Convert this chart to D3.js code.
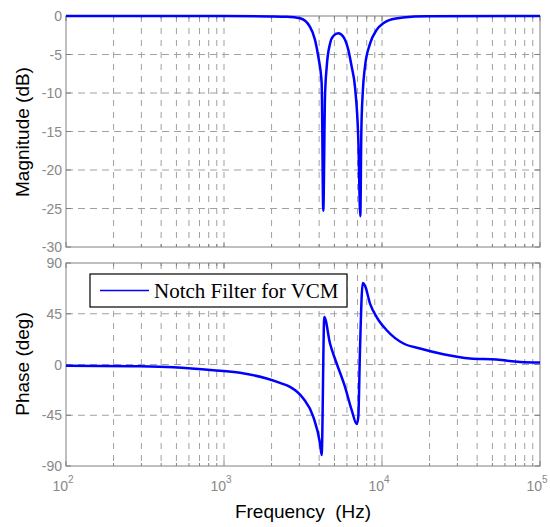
<!DOCTYPE html>
<html>
<head>
<meta charset="utf-8">
<script src="https://cdn.jsdelivr.net/npm/d3@7"></script>
<style>
  body { margin: 0; background: #fff; }
  svg text { font-family: "Liberation Sans", Arial, sans-serif; }
</style>
</head>
<body>
<div id="chart"></div>
<script>
// Magnitude response (Hz, dB)
var magFreq = [100, 1000, 1954, 2494, 3027, 3502, 3767, 3953, 4150, 4250, 4357, 4467, 4688, 4919, 5290, 5690, 6120, 6430, 6745, 7080, 7290, 7400, 7550, 7800, 8400, 9250, 10190, 11220, 13580, 19180, 100000];
var magDb   = [0, 0, -0.05, -0.1, -0.3, -1.4, -3.1, -5.3, -8.7, -25.3, -10.5, -6.6, -3.6, -2.6, -2.25, -2.7, -4.4, -6.6, -9.2, -16, -26.0, -15, -10, -6.6, -3.6, -1.8, -0.95, -0.5, -0.2, -0.03, 0];

// Phase response (Hz, deg)
var phaseFreq = [100, 265, 478, 855, 1263, 1863, 2262, 2615, 3176, 3675, 4053, 4150, 4313, 4688, 5166, 5832, 6430, 6918, 7080, 7255, 7550, 7800, 8400, 9250, 10710, 13680, 17400, 24430, 36060, 53210, 74680, 100000];
var phaseDeg  = [-1, -1.5, -2.4, -5, -7.4, -12.4, -16.3, -19.8, -30.1, -46.4, -70, -80.3, 42.1, 18.6, 0.9, -19.8, -40.5, -52.8, -46.4, 12.7, 72.3, 70, 54, 42.1, 30.4, 18.6, 14.2, 9.1, 5.3, 4.4, 2.3, 1.8];

var magTicks = [0, -5, -10, -15, -20, -25, -30];
var phaseTicks = [90, 45, 0, -45, -90];
var decadeExps = [2, 3, 4, 5];
var legendLabel = "Notch Filter for VCM";

var svgWidth = 550, svgHeight = 527;
var left = 66, right = 540;

var svg = d3.select("#chart").append("svg")
  .attr("width", svgWidth)
  .attr("height", svgHeight);

var x = d3.scaleLog().domain([100, 100000]).range([left, right]);
var yMag = d3.scaleLinear().domain([-30, 0]).range([247, 16]);
var yPh = d3.scaleLinear().domain([-90, 90]).range([466, 263]);

// all grid frequencies: 1..9 x each decade
var gridFreqs = [];
[100, 1000, 10000].forEach(function(d) {
  for (var k = 1; k < 10; k++) gridFreqs.push(d * k);
});
gridFreqs.push(100000);

function drawPanel(y, ticks, label, labelY) {
  var g = svg.append("g");
  var top = y.range()[1], bottom = y.range()[0];

  // vertical grid
  g.selectAll(".vg").data(gridFreqs.filter(f => f > 100 && f < 100000)).enter()
    .append("line")
    .attr("x1", d => x(d)).attr("x2", d => x(d))
    .attr("y1", top).attr("y2", bottom)
    .attr("stroke", "#a0a0a0")
    .attr("stroke-dasharray", "6,6");

  // horizontal grid
  g.selectAll(".hg").data(ticks.filter(t => y(t) > top + 1 && y(t) < bottom - 1)).enter()
    .append("line")
    .attr("x1", left).attr("x2", right)
    .attr("y1", d => y(d)).attr("y2", d => y(d))
    .attr("stroke", "#a0a0a0")
    .attr("stroke-dasharray", "7,5");

  // inward ticks on x
  gridFreqs.forEach(function(f) {
    var major = decadeExps.some(e => Math.abs(f - Math.pow(10, e)) < 1e-6);
    var len = major ? 5 : 3;
    g.append("line").attr("x1", x(f)).attr("x2", x(f))
      .attr("y1", bottom).attr("y2", bottom - len).attr("stroke", "#808080");
    g.append("line").attr("x1", x(f)).attr("x2", x(f))
      .attr("y1", top).attr("y2", top + len).attr("stroke", "#808080");
  });
  // inward ticks on y
  ticks.forEach(function(t) {
    g.append("line").attr("x1", left).attr("x2", left + 5)
      .attr("y1", y(t)).attr("y2", y(t)).attr("stroke", "#808080");
    g.append("line").attr("x1", right).attr("x2", right - 5)
      .attr("y1", y(t)).attr("y2", y(t)).attr("stroke", "#808080");
  });

  // box
  g.append("rect")
    .attr("x", left).attr("y", top)
    .attr("width", right - left).attr("height", bottom - top)
    .attr("fill", "none").attr("stroke", "#808080");

  // y tick labels
  g.selectAll(".yl").data(ticks).enter()
    .append("text")
    .attr("x", left - 4)
    .attr("y", d => y(d))
    .attr("dy", "0.36em")
    .attr("text-anchor", "end")
    .attr("font-size", "14px")
    .attr("fill", "#888")
    .text(d => d);

  // y axis title
  svg.append("text")
    .attr("transform", "translate(29," + labelY + ") rotate(-90)")
    .attr("text-anchor", "middle")
    .attr("font-size", "19px")
    .attr("fill", "#000")
    .text(label);

  return g;
}

var gMag = drawPanel(yMag, magTicks, "Magnitude (dB)", 132);
var gPh = drawPanel(yPh, phaseTicks, "Phase (deg)", 364);

var magData = magFreq.map((f, i) => [f, magDb[i]]);
var phData = phaseFreq.map((f, i) => [f, phaseDeg[i]]);

gMag.append("path")
  .datum(magData)
  .attr("fill", "none")
  .attr("stroke", "#0000ff")
  .attr("stroke-width", 2.5)
  .attr("d", d3.line().x(d => x(d[0])).y(d => yMag(d[1])).curve(d3.curveMonotoneX));

gPh.append("path")
  .datum(phData)
  .attr("fill", "none")
  .attr("stroke", "#0000ff")
  .attr("stroke-width", 2.5)
  .attr("d", d3.line().x(d => x(d[0])).y(d => yPh(d[1])).curve(d3.curveMonotoneX));

// x tick labels 10^n
var xl = svg.selectAll(".xl").data(decadeExps).enter()
  .append("text")
  .attr("x", d => x(Math.pow(10, d)) - 3)
  .attr("y", 491)
  .attr("text-anchor", "middle")
  .attr("font-size", "14px")
  .attr("fill", "#888");
xl.append("tspan").text("10");
xl.append("tspan").attr("dy", -8).attr("font-size", "10px").text(d => d);

svg.append("text")
  .attr("x", 303)
  .attr("y", 518)
  .attr("text-anchor", "middle")
  .attr("font-size", "19px")
  .attr("fill", "#000")
  .attr("xml:space", "preserve")
  .style("white-space", "pre")
  .text("Frequency  (Hz)");

// legend
var lg = svg.append("g");
lg.append("rect")
  .attr("x", 90).attr("y", 274)
  .attr("width", 257).attr("height", 33)
  .attr("fill", "#fff").attr("stroke", "#000").attr("stroke-width", 1.2);
lg.append("line")
  .attr("x1", 100).attr("x2", 149)
  .attr("y1", 290.5).attr("y2", 290.5)
  .attr("stroke", "#0000ff").attr("stroke-width", 1.5);
lg.append("text")
  .attr("x", 154).attr("y", 298)
  .attr("font-size", "21px")
  .style("font-family", "'Liberation Serif', 'Times New Roman', serif")
  .attr("fill", "#000")
  .text(legendLabel);
</script>
</body>
</html>
